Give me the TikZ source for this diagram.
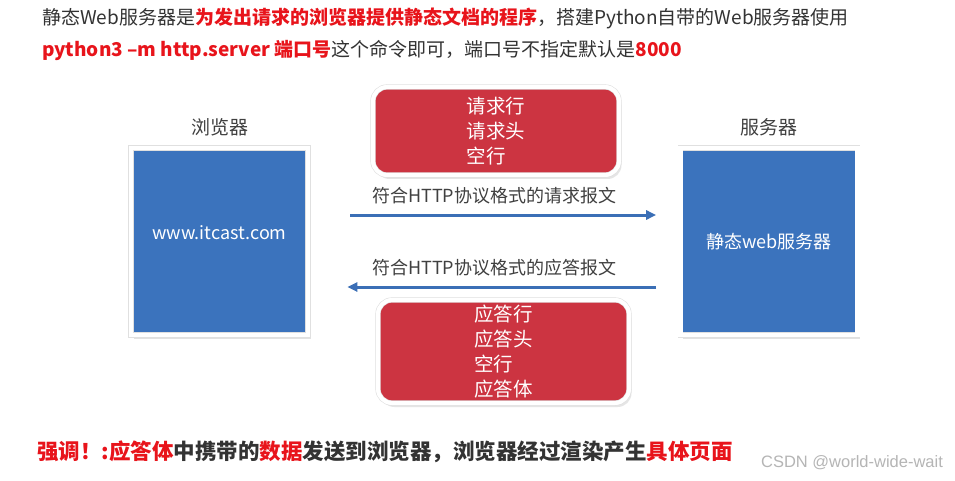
\documentclass[tikz,border=0pt]{standalone}
\usepackage{fontspec}
\setmainfont{Noto Sans CJK SC}
\newfontfamily\markfont{Liberation Sans}
\usepackage{xcolor}
\definecolor{cText}{HTML}{333333}
\definecolor{cRed}{HTML}{E8141B}
\definecolor{cBlue}{HTML}{3B73BD}
\definecolor{cBox}{HTML}{CC3441}
\definecolor{cArrow}{HTML}{3B6FB6}
\definecolor{cLabel}{HTML}{404040}
\definecolor{cMark}{HTML}{B5B5B5}
\usepackage{tikz}
\usetikzlibrary{positioning,arrows.meta,shadows}
\tikzset{
  node-host/.style={draw=black!12,line width=0.6pt,double=white,
    double distance=4.5pt,fill=cBlue,text=white,
    minimum width=177pt,minimum height=187pt,align=center,
    font=\fontsize{18}{22}\selectfont,
    drop shadow={shadow xshift=2.5pt,shadow yshift=-4pt,fill=black!22}},
  node-msg/.style={draw=black!12,line width=0.6pt,double=white,
    double distance=4pt,fill=cBox,text=white,
    rounded corners=14pt,align=left,font=\fontsize{19.5}{25}\selectfont,
    drop shadow={shadow xshift=2.5pt,shadow yshift=-4pt,fill=black!20}},
  node-title/.style={text=cLabel,font=\fontsize{19}{22}\selectfont},
  node-line/.style={anchor=west,inner sep=0pt,text=cText,
    font=\fontsize{19}{22}\selectfont},
  arrow-msg/.style={-{Triangle[length=10pt,width=9pt]},line width=3pt,draw=cArrow},
}
\newcommand{\hot}[1]{\textcolor{cRed}{\textbf{#1}}}

\begin{document}
\begin{tikzpicture}[x=1pt,y=-1pt,node distance=8pt]
  \useasboundingbox[fill=white] (0,0) rectangle (955,481);
  % 说明文字
  \node[node-line] (l1) at (42,18)
    {静态Web服务器是\hot{为发出请求的浏览器提供静态文档的程序}，搭建Python自带的Web服务器使用};
  \node[node-line] (l2) at (42,50)
    {\hot{python3 –m http.server 端口号}这个命令即可，端口号不指定默认是\hot{8000}};
  % 浏览器 / 服务器
  \node[node-host] (brw) at (219.5,241.5) {\raisebox{18pt}{www.itcast.com}};
  \node[node-host] (srv) at (769,241.5) {静态web服务器};
  \node[node-title,above=of brw] (brwT) {浏览器};
  \node[node-title,above=of srv] (srvT) {服务器};
  % 报文
  \node[node-msg,minimum width=246pt,minimum height=88pt] (req) at (496,131)
    {请求行\\请求头\\空行};
  \node[node-msg,minimum width=251pt,minimum height=103pt] (rsp) at (503.5,351.5)
    {应答行\\应答头\\空行\\应答体};
  \draw[arrow-msg,shorten <=42pt,shorten >=24pt]
    ([yshift=26.5pt]brw.east) -- ([yshift=26.5pt]brw.east -| srv.west)
    node[midway,above=6pt,node-title,font=\fontsize{18}{22}\selectfont] (reqT)
    {符合HTTP协议格式的请求报文};
  \draw[arrow-msg,shorten <=24pt,shorten >=39pt]
    ([yshift=-45.5pt]brw.east -| srv.west) -- ([yshift=-45.5pt]brw.east)
    node[midway,above=6pt,node-title,font=\fontsize{18}{22}\selectfont] (rspT)
    {符合HTTP协议格式的应答报文};
  % 强调
  \node[node-line,font=\bfseries\fontsize{21.5}{24}\selectfont] (l3) at (37,452)
    {\hot{强调！:应答体}中携带的\hot{数据}发送到浏览器，浏览器经过渲染产生\hot{具体页面}};
  \node[text=cMark,font=\markfont\fontsize{16.5}{18}\selectfont] (mark) at (852,463)
    {CSDN @world-wide-wait};
\end{tikzpicture}
\end{document}
